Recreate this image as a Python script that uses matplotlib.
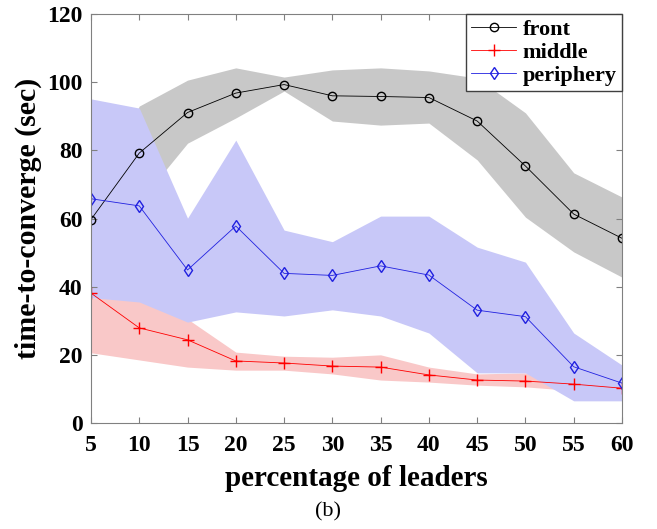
import matplotlib.pyplot as plt

pct = [5, 10, 15, 20, 25, 30, 35, 40, 45, 50, 55, 60]

front = [59.7, 79.2, 91.1, 96.8, 99.3, 96.0, 95.8, 95.5, 88.6, 75.4, 61.3, 54.2]
front_hi = [66, 93, 100.6, 104.2, 101.5, 103.6, 104.2, 103.3, 101.2, 91, 73.4, 66.3]
front_lo = [45, 64.8, 82.1, 89.5, 97.4, 88.6, 87.4, 88.0, 77.2, 60.4, 50.2, 42.8]

middle = [38.1, 27.9, 24.4, 18.2, 17.6, 16.7, 16.4, 14.1, 12.6, 12.3, 11.4, 10.2]
middle_hi = [36.8, 36.0, 30.5, 20.8, 19.6, 19.3, 20.0, 16.4, 14.4, 14.7, 12.0, 11.0]
middle_lo = [20.6, 18.5, 16.4, 15.5, 15.5, 14.4, 12.6, 12.0, 11.1, 10.6, 9.5, 9.0]

periph = [65.8, 63.7, 44.9, 57.8, 43.9, 43.3, 46.1, 43.4, 33.1, 31.2, 16.5, 11.7]
periph_hi = [95.1, 92.4, 60.1, 83.0, 56.6, 53.2, 60.7, 60.7, 51.6, 47.2, 26.4, 17.0]
periph_lo = [36.8, 35.5, 29.6, 32.6, 31.4, 33.2, 31.4, 26.4, 14.7, 14.7, 6.5, 6.5]

fig = plt.figure(figsize=(6.57, 5.29), dpi=100)
ax = fig.add_axes([0.1385, 0.2004, 0.8082, 0.7731])

ax.fill_between(pct, front_lo, front_hi, color='#c8c8c8', linewidth=0)
ax.fill_between(pct, middle_lo, middle_hi, color='#f9c8c8', linewidth=0)
ax.fill_between(pct, periph_lo, periph_hi, color='#c8c8f8', linewidth=0)

ax.plot(pct, front, color='black', marker='o', markersize=6, markerfacecolor='none',
        linewidth=0.6, label='front')
ax.plot(pct, middle, color='red', marker='+', markersize=8, linewidth=0.6, label='middle')
ax.plot(pct, periph, color='#2020e0', marker='d', markersize=6, markerfacecolor='none',
        linewidth=0.6, label='periphery')

ax.set_xlim(5, 60)
ax.set_ylim(0, 120)
ax.set_xticks(pct)
ax.set_yticks(range(0, 121, 20))
ax.tick_params(direction='in', top=True, right=True, length=4, color='#808080')
ax.tick_params(axis='x', pad=9)
ax.tick_params(axis='y', pad=6)
for s in ax.spines.values():
    s.set_color('#808080')
for lab in ax.get_xticklabels() + ax.get_yticklabels():
    lab.set_fontfamily('Liberation Serif')
    lab.set_fontweight('bold')
    lab.set_fontsize(17)

ax.set_xlabel('percentage of leaders', fontfamily='Liberation Serif', fontweight='bold',
              fontsize=21, labelpad=6)
ax.set_ylabel('time-to-converge (sec)', fontfamily='Liberation Serif', fontweight='bold',
              fontsize=21.5, labelpad=4)

leg = ax.legend(loc='upper right', prop={'family': 'Liberation Serif', 'weight': 'bold', 'size': 16},
                fancybox=False, framealpha=1, edgecolor='#404040', borderaxespad=0.0,
                handlelength=2.0, handletextpad=0.3, labelspacing=0.1, borderpad=0.25)
leg.get_frame().set_linewidth(1.0)

fig.text(0.5, 0.032, '(b)', ha='center', va='center', fontfamily='Liberation Serif', fontsize=16)

fig.savefig('out.png', dpi=100)
